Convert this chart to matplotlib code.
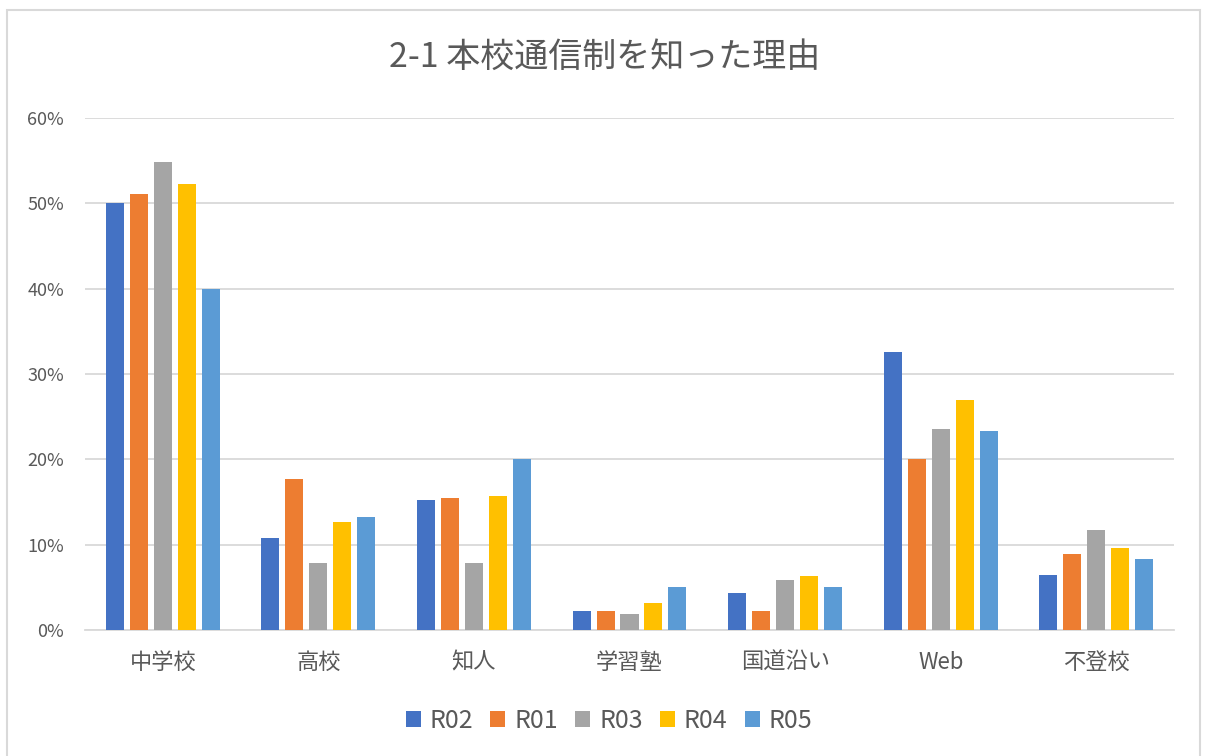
import matplotlib
matplotlib.use('Agg')
import matplotlib.pyplot as plt
import matplotlib.patches as patches
from matplotlib.ticker import PercentFormatter
import numpy as np

plt.rcParams['font.family'] = ['Noto Sans CJK JP', 'DejaVu Sans']

# data
categories = ['中学校', '高校', '知人', '学習塾', '国道沿い', 'Web', '不登校']
series_names = ['R02', 'R01', 'R03', 'R04', 'R05']
r02 = [0.500, 0.108, 0.152, 0.022, 0.043, 0.326, 0.064]
r01 = [0.511, 0.177, 0.155, 0.022, 0.022, 0.200, 0.089]
r03 = [0.549, 0.078, 0.078, 0.019, 0.059, 0.236, 0.117]
r04 = [0.523, 0.126, 0.157, 0.032, 0.063, 0.270, 0.096]
r05 = [0.400, 0.132, 0.200, 0.050, 0.050, 0.233, 0.083]
colors = ['#4472C4', '#ED7D31', '#A5A5A5', '#FFC000', '#5B9BD5']

text_color = '#595959'
grid_color = '#d9d9d9'

fig = plt.figure(figsize=(12.06, 7.56), dpi=100)
ax = fig.add_axes([85 / 1206, 1 - 630 / 756, 1089 / 1206, 512 / 756])

# outer chart border
fig.patches.append(patches.Rectangle((7 / 1206, -0.02), 1193 / 1206, 1.02 - 10 / 756,
                                     transform=fig.transFigure, fill=False,
                                     edgecolor=grid_color, linewidth=1.5))

x = np.arange(len(categories))
step = 0.154
width = 0.116
all_series = [r02, r01, r03, r04, r05]
for i, vals in enumerate(all_series):
    ax.bar(x + (i - 2) * step, vals, width, color=colors[i], label=series_names[i], zorder=3)

ax.set_xlim(-0.5, len(categories) - 0.5)
ax.set_ylim(0, 0.6)
ax.set_yticks(np.arange(0, 0.61, 0.1))
ax.yaxis.set_major_formatter(PercentFormatter(1.0, decimals=0))
ax.set_xticks(x)
ax.set_xticklabels(categories)

ax.grid(axis='y', color=grid_color, linewidth=1.3, zorder=0)
for s in ['top', 'right', 'left']:
    ax.spines[s].set_visible(False)
ax.spines['bottom'].set_color(grid_color)
ax.spines['bottom'].set_linewidth(1.3)
ax.tick_params(axis='both', length=0, colors=text_color)
ax.tick_params(axis='y', labelsize=13, pad=15)
ax.tick_params(axis='x', labelsize=16, pad=15)

fig.text(605 / 1206, 1 - 57 / 756, '2-1 本校通信制を知った理由', ha='center', va='center',
         fontsize=24.5, color=text_color)

leg = fig.legend(loc='center', bbox_to_anchor=(609 / 1206, 1 - 721 / 756), ncol=5,
                 frameon=False, fontsize=18, handlelength=0.6, handleheight=0.6,
                 handletextpad=0.35, columnspacing=0.7)
for t in leg.get_texts():
    t.set_color(text_color)

plt.savefig('out.png', dpi=100)
